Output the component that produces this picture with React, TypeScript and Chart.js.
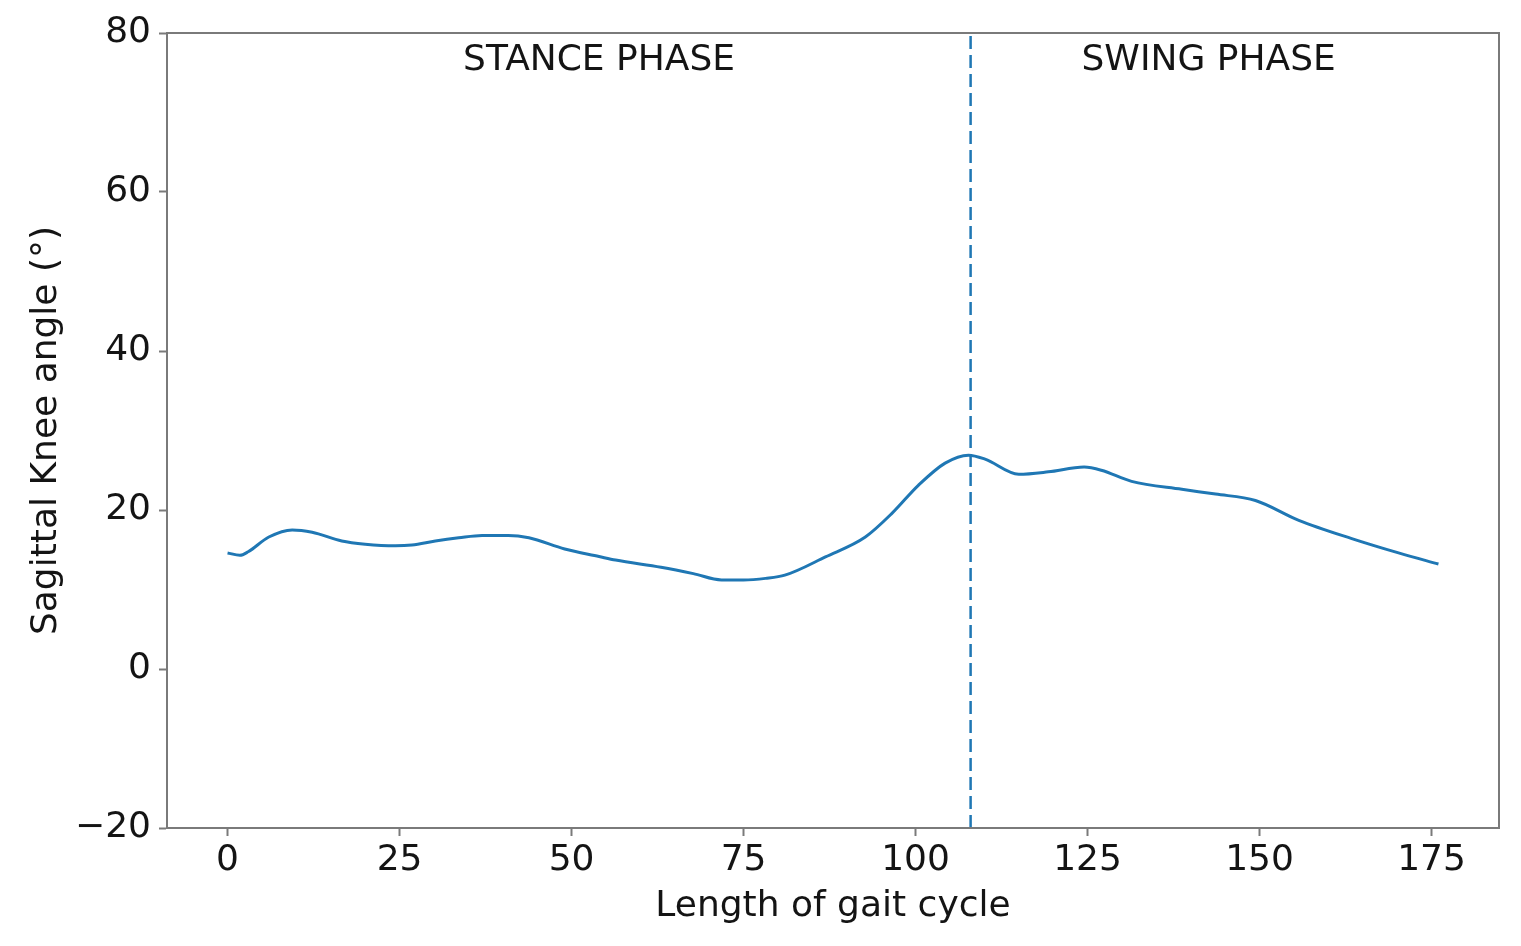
import React, { useEffect, useRef } from "react";
import { Chart, registerables } from "chart.js";

Chart.register(...registerables);

// Gait cycle sample positions and sagittal knee angle (degrees)
const gaitX = [0, 1.8, 3, 6, 9.4, 12.3, 16.6, 20, 24.4, 26.8, 30.2, 33.6, 37, 40.8, 43.8, 49, 54, 56.4, 63, 67.7, 71.8, 75, 78.2, 81, 86.9, 92.7, 96.6, 100.4, 104.3, 107.7, 110.1, 115, 119.3, 124.5, 127, 131.4, 138.7, 143.6, 149.4, 155.7, 163.4, 170.2, 176];
const kneeAngle = [14.6, 14.3, 14.75, 16.6, 17.5, 17.2, 16.1, 15.7, 15.5, 15.6, 16.1, 16.5, 16.8, 16.8, 16.5, 15.1, 14.15, 13.7, 12.8, 12.0, 11.2, 11.2, 11.4, 11.8, 14.1, 16.6, 19.6, 23.1, 25.9, 26.9, 26.4, 24.5, 24.8, 25.4, 25.0, 23.6, 22.6, 22.0, 21.2, 18.7, 16.4, 14.6, 13.2];

// Stance / swing boundary
const phaseBoundaryX = [108, 108];
const phaseBoundaryY = [-20, 80];

// Phase annotations in data units
const phaseLabels = ["STANCE PHASE", "SWING PHASE"];
const phaseLabelX = [54, 142.6];
const phaseLabelY = [75.3, 75.3];

const xTitle = "Length of gait cycle";
const yTitle = "Sagittal Knee angle (°)";

const xMin = -8.8;
const xMax = 184.8;
const xStep = 25;
const yMin = -20;
const yMax = 80;
const yStep = 20;

const FONT = "'DejaVu Sans', sans-serif";
const TEXT = "#141414";
const SPINE = "#7a7a7a";
const LINE = "#1f77b4";
const FS = 36;

export default function App() {
  const ref = useRef<HTMLCanvasElement | null>(null);

  useEffect(() => {
    document.body.style.margin = "0";
    const canvas = ref.current;
    if (!canvas) return;

    const annot = {
      id: "annot",
      afterDraw(chart: any) {
        const { ctx, chartArea, scales } = chart;
        ctx.save();
        ctx.strokeStyle = SPINE;
        ctx.lineWidth = 2;
        ctx.strokeRect(chartArea.left, chartArea.top, chartArea.right - chartArea.left, chartArea.bottom - chartArea.top);
        ctx.fillStyle = TEXT;
        ctx.font = `${FS}px ${FONT}`;
        ctx.textAlign = "center";
        ctx.textBaseline = "alphabetic";
        phaseLabels.forEach((t, i) => {
          ctx.fillText(t, scales.x.getPixelForValue(phaseLabelX[i]), scales.y.getPixelForValue(phaseLabelY[i]));
        });
        ctx.fillText(xTitle, (chartArea.left + chartArea.right) / 2, 916);
        ctx.translate(47, (chartArea.top + chartArea.bottom) / 2);
        ctx.rotate(-Math.PI / 2);
        ctx.textBaseline = "middle";
        ctx.fillText(yTitle, 0, 0);
        ctx.restore();
      },
    };

    const chart = new Chart(canvas, {
      type: "line",
      data: {
        datasets: [
          {
            data: gaitX.map((x, i) => ({ x, y: kneeAngle[i] })),
            borderColor: LINE,
            borderWidth: 3,
            pointRadius: 0,
            cubicInterpolationMode: "monotone",
            fill: false,
          },
          {
            data: phaseBoundaryX.map((x, i) => ({ x, y: phaseBoundaryY[i] })),
            borderColor: LINE,
            borderWidth: 2.5,
            borderDash: [13, 6],
            pointRadius: 0,
            fill: false,
          },
        ],
      },
      options: {
        animation: false,
        responsive: true,
        maintainAspectRatio: false,
        devicePixelRatio: 1,
        layout: { padding: { left: 0, right: 22, top: 33, bottom: 0 } },
        plugins: { legend: { display: false }, tooltip: { enabled: false } },
        scales: {
          x: {
            type: "linear",
            min: xMin,
            max: xMax,
            grid: { drawOnChartArea: false, drawTicks: true, tickLength: 8, tickWidth: 2, tickColor: SPINE },
            border: { display: true, color: SPINE, width: 2 },
            ticks: {
              stepSize: xStep,
              includeBounds: false,
              color: TEXT,
              font: { family: FONT, size: FS },
              padding: 3,
              maxRotation: 0,
              autoSkip: false,
            },
            afterFit(scale: any) {
              scale.height = 118;
            },
          },
          y: {
            type: "linear",
            min: yMin,
            max: yMax,
            grid: { drawOnChartArea: false, drawTicks: true, tickLength: 8, tickWidth: 2, tickColor: SPINE },
            border: { display: true, color: SPINE, width: 2 },
            ticks: {
              stepSize: yStep,
              includeBounds: false,
              color: TEXT,
              font: { family: FONT, size: FS },
              padding: 8,
              callback: (v: any) => (Number(v) < 0 ? "\u2212" + Math.abs(Number(v)) : String(v)),
            },
            afterFit(scale: any) {
              scale.width = 167;
            },
          },
        },
      },
      plugins: [annot],
    } as any);

    return () => chart.destroy();
  }, []);

  return (
    <div style={{ width: 1521, height: 946, position: "relative", background: "#fff" }}>
      <canvas ref={ref} />
    </div>
  );
}
